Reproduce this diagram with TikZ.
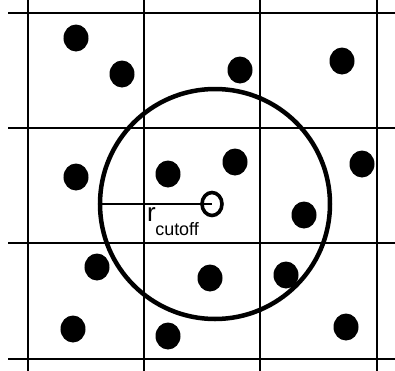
\documentclass[tikz,border=0pt]{standalone}
\usepackage{fontspec}
\setmainfont{Liberation Sans}
\usetikzlibrary{shapes.geometric}

\begin{document}
\begin{tikzpicture}[
  x=1bp,y=-1bp,
  gridline/.style={draw=black,line width=2.3bp},
  particle/.style={ellipse,fill=black,minimum width=25bp,minimum height=27bp,inner sep=0pt},
  probe/.style={ellipse,draw=black,line width=3.6bp,minimum width=20bp,minimum height=23bp,inner sep=0pt},
  cutsphere/.style={circle,draw=black,line width=4.5bp,minimum size=230bp,inner sep=0pt,outer sep=0pt},
  radlab/.style={font=\fontsize{26}{26}\selectfont,inner sep=0pt,anchor=base west}
]
\useasboundingbox (0,0) rectangle (395,371);
% cell grid
\foreach \gx in {28,144,260,377}
  \draw[gridline] (\gx,0) -- (\gx,371);
\foreach \gy in {13,128,243,359}
  \draw[gridline] (8,\gy) -- (395,\gy);
% particles
\foreach \px/\py [count=\i] in {76/38,122/74,240/70,342/61,76/177,168/174,235/162,362/164,304/215,97/267,210/278,286/275,73/329,168/336,346/327}
  \node[particle] (p\i) at (\px,\py) {};
% cutoff sphere round the probe particle
\node[cutsphere] (sphere) at (215,204) {};
\node[probe] (probe) at (212,204) {};
\draw[line width=2.2bp] (sphere.west) -- (probe.center);
\node[radlab] (rlab) at (147,221) {r\kern-0.5bp\raisebox{-14bp}{\fontsize{18}{18}\selectfont cutoff}};
\end{tikzpicture}
\end{document}
